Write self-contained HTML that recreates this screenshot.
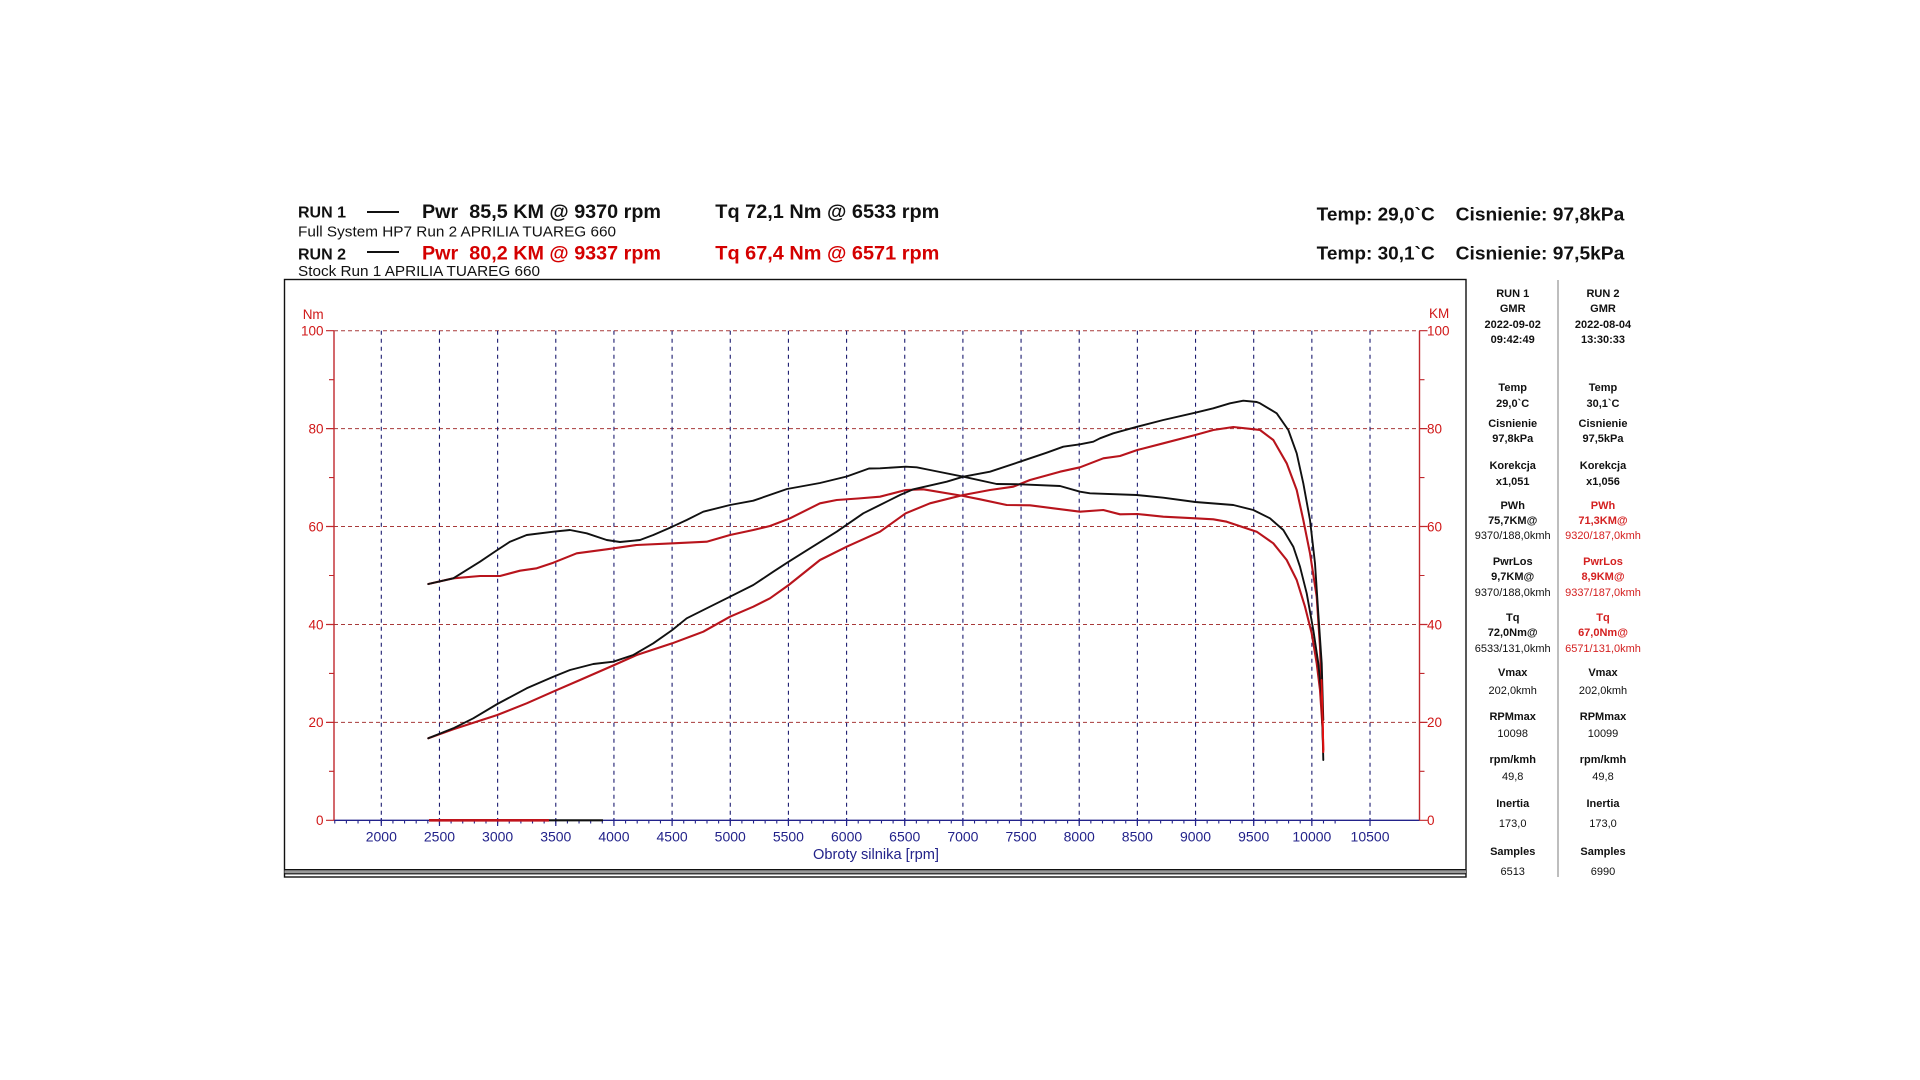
<!DOCTYPE html>
<html>
<head>
<meta charset="utf-8">
<style>
  html,body{margin:0;padding:0;background:#fff;}
  svg{display:block;}
  text{font-family:"Liberation Sans", Arial, sans-serif;}
</style>
</head>
<body>
<svg width="1920" height="1080" viewBox="0 0 1920 1080" xmlns="http://www.w3.org/2000/svg">
  <rect x="0" y="0" width="1920" height="1080" fill="#fff"/>

  <!-- Header left -->
  <text x="298" y="217.3" font-size="16" font-weight="bold" fill="#111" textLength="48" lengthAdjust="spacingAndGlyphs">RUN 1</text>
  <line x1="367" y1="212" x2="399" y2="212" stroke="#111" stroke-width="2"/>
  <text x="422" y="218" font-size="19.5" font-weight="bold" fill="#111" textLength="239" lengthAdjust="spacingAndGlyphs" xml:space="preserve">Pwr  85,5 KM @ 9370 rpm</text>
  <text x="715.3" y="218" font-size="19.5" font-weight="bold" fill="#111" textLength="224" lengthAdjust="spacingAndGlyphs">Tq 72,1 Nm @ 6533 rpm</text>
  <text x="298" y="236.7" font-size="14.5" fill="#111" textLength="318" lengthAdjust="spacingAndGlyphs">Full System HP7 Run 2 APRILIA TUAREG 660</text>

  <text x="298" y="259.3" font-size="16" font-weight="bold" fill="#111" textLength="48" lengthAdjust="spacingAndGlyphs">RUN 2</text>
  <line x1="367" y1="252" x2="399" y2="252" stroke="#111" stroke-width="2"/>
  <text x="422" y="259.5" font-size="19.5" font-weight="bold" fill="#d40000" textLength="239" lengthAdjust="spacingAndGlyphs" xml:space="preserve">Pwr  80,2 KM @ 9337 rpm</text>
  <text x="715.3" y="259.5" font-size="19.5" font-weight="bold" fill="#d40000" textLength="224" lengthAdjust="spacingAndGlyphs">Tq 67,4 Nm @ 6571 rpm</text>
  <text x="298" y="276" font-size="14.5" fill="#111" textLength="242" lengthAdjust="spacingAndGlyphs">Stock Run 1 APRILIA TUAREG 660</text>

  <!-- Header right -->
  <text x="1316.7" y="220.7" font-size="18.5" font-weight="bold" fill="#111" textLength="118" lengthAdjust="spacingAndGlyphs">Temp: 29,0`C</text>
  <text x="1455.7" y="220.7" font-size="18.5" font-weight="bold" fill="#111" textLength="168.6" lengthAdjust="spacingAndGlyphs">Cisnienie: 97,8kPa</text>
  <text x="1316.7" y="259.3" font-size="18.5" font-weight="bold" fill="#111" textLength="118" lengthAdjust="spacingAndGlyphs">Temp: 30,1`C</text>
  <text x="1455.7" y="259.3" font-size="18.5" font-weight="bold" fill="#111" textLength="168.6" lengthAdjust="spacingAndGlyphs">Cisnienie: 97,5kPa</text>

  <!-- Chart box -->
  <rect x="284.5" y="279.5" width="1181.5" height="597.5" fill="none" stroke="#111" stroke-width="1.4"/>
  <rect x="284.5" y="869" width="1181.5" height="1.4" fill="#111"/>
  <rect x="284.5" y="870.4" width="1181.5" height="2.8" fill="#9a9a9a"/>
  <rect x="284.5" y="873.2" width="1181.5" height="1.2" fill="#111"/>

  <!-- Stats divider -->
  <line x1="1558" y1="280" x2="1558" y2="877" stroke="#a8a8a8" stroke-width="1.5"/>

  <!-- Horizontal dashed gridlines (red) -->
  <g stroke="#a83a3a" stroke-width="1" stroke-dasharray="4 3" fill="none">
    <line x1="334" y1="330.7" x2="1419.5" y2="330.7"/>
    <line x1="334" y1="428.6" x2="1419.5" y2="428.6"/>
    <line x1="334" y1="526.5" x2="1419.5" y2="526.5"/>
    <line x1="334" y1="624.5" x2="1419.5" y2="624.5"/>
    <line x1="334" y1="722.4" x2="1419.5" y2="722.4"/>
  </g>

  <!-- Vertical dashed gridlines (navy) -->
  <path stroke="#1c1c70" stroke-width="1.1" stroke-dasharray="4 4" fill="none" d="
    M381.3,330.7 V820 M439.46,330.7 V820 M497.62,330.7 V820 M555.78,330.7 V820
    M613.94,330.7 V820 M672.1,330.7 V820 M730.26,330.7 V820 M788.42,330.7 V820
    M846.58,330.7 V820 M904.74,330.7 V820 M962.9,330.7 V820 M1021.06,330.7 V820
    M1079.22,330.7 V820 M1137.38,330.7 V820 M1195.54,330.7 V820 M1253.7,330.7 V820
    M1311.86,330.7 V820 M1370.02,330.7 V820"/>

  <!-- X axis -->
  <line x1="334" y1="820.3" x2="1419.5" y2="820.3" stroke="#22228a" stroke-width="1.4"/>
  <path stroke="#22228a" stroke-width="1.1" fill="none" d="M334.77,820 v3.5 m11.632,-3.5 v3.5 m11.632,-3.5 v3.5 m11.632,-3.5 v3.5 m11.632,-3.5 v3.5 m11.632,-3.5 v3.5 m11.632,-3.5 v3.5 m11.632,-3.5 v3.5 m11.632,-3.5 v3.5 m11.632,-3.5 v3.5 m11.632,-3.5 v3.5 m11.632,-3.5 v3.5 m11.632,-3.5 v3.5 m11.632,-3.5 v3.5 m11.632,-3.5 v3.5 m11.632,-3.5 v3.5 m11.632,-3.5 v3.5 m11.632,-3.5 v3.5 m11.632,-3.5 v3.5 m11.632,-3.5 v3.5 m11.632,-3.5 v3.5 m11.632,-3.5 v3.5 m11.632,-3.5 v3.5 m11.632,-3.5 v3.5 m11.632,-3.5 v3.5 m11.632,-3.5 v3.5 m11.632,-3.5 v3.5 m11.632,-3.5 v3.5 m11.632,-3.5 v3.5 m11.632,-3.5 v3.5 m11.632,-3.5 v3.5 m11.632,-3.5 v3.5 m11.632,-3.5 v3.5 m11.632,-3.5 v3.5 m11.632,-3.5 v3.5 m11.632,-3.5 v3.5 m11.632,-3.5 v3.5 m11.632,-3.5 v3.5 m11.632,-3.5 v3.5 m11.632,-3.5 v3.5 m11.632,-3.5 v3.5 m11.632,-3.5 v3.5 m11.632,-3.5 v3.5 m11.632,-3.5 v3.5 m11.632,-3.5 v3.5 m11.632,-3.5 v3.5 m11.632,-3.5 v3.5 m11.632,-3.5 v3.5 m11.632,-3.5 v3.5 m11.632,-3.5 v3.5 m11.632,-3.5 v3.5 m11.632,-3.5 v3.5 m11.632,-3.5 v3.5 m11.632,-3.5 v3.5 m11.632,-3.5 v3.5 m11.632,-3.5 v3.5 m11.632,-3.5 v3.5 m11.632,-3.5 v3.5 m11.632,-3.5 v3.5 m11.632,-3.5 v3.5 m11.632,-3.5 v3.5 m11.632,-3.5 v3.5 m11.632,-3.5 v3.5 m11.632,-3.5 v3.5 m11.632,-3.5 v3.5 m11.632,-3.5 v3.5 m11.632,-3.5 v3.5 m11.632,-3.5 v3.5 m11.632,-3.5 v3.5 m11.632,-3.5 v3.5 m11.632,-3.5 v3.5 m11.632,-3.5 v3.5 m11.632,-3.5 v3.5 m11.632,-3.5 v3.5 m11.632,-3.5 v3.5 m11.632,-3.5 v3.5 m11.632,-3.5 v3.5 m11.632,-3.5 v3.5 m11.632,-3.5 v3.5 m11.632,-3.5 v3.5 m11.632,-3.5 v3.5 m11.632,-3.5 v3.5 m11.632,-3.5 v3.5 m11.632,-3.5 v3.5 m11.632,-3.5 v3.5 m11.632,-3.5 v3.5 m11.632,-3.5 v3.5"/>
  <path stroke="#22228a" stroke-width="1.2" fill="none" d="M381.3,818 v8 m58.16,-8 v8 m58.16,-8 v8 m58.16,-8 v8 m58.16,-8 v8 m58.16,-8 v8 m58.16,-8 v8 m58.16,-8 v8 m58.16,-8 v8 m58.16,-8 v8 m58.16,-8 v8 m58.16,-8 v8 m58.16,-8 v8 m58.16,-8 v8 m58.16,-8 v8 m58.16,-8 v8 m58.16,-8 v8 m58.16,-8 v8"/>

  <g font-size="14" fill="#22228a" text-anchor="middle">
    <text x="381.3" y="841.7">2000</text>
    <text x="439.46" y="841.7">2500</text>
    <text x="497.62" y="841.7">3000</text>
    <text x="555.78" y="841.7">3500</text>
    <text x="613.94" y="841.7">4000</text>
    <text x="672.1" y="841.7">4500</text>
    <text x="730.26" y="841.7">5000</text>
    <text x="788.42" y="841.7">5500</text>
    <text x="846.58" y="841.7">6000</text>
    <text x="904.74" y="841.7">6500</text>
    <text x="962.9" y="841.7">7000</text>
    <text x="1021.06" y="841.7">7500</text>
    <text x="1079.22" y="841.7">8000</text>
    <text x="1137.38" y="841.7">8500</text>
    <text x="1195.54" y="841.7">9000</text>
    <text x="1253.7" y="841.7">9500</text>
    <text x="1311.86" y="841.7">10000</text>
    <text x="1370.02" y="841.7">10500</text>
  </g>
  <text x="876" y="859" font-size="15" fill="#22228a" text-anchor="middle" textLength="126" lengthAdjust="spacingAndGlyphs">Obroty silnika [rpm]</text>

  <!-- Left axis -->
  <line x1="334" y1="330.7" x2="334" y2="820.3" stroke="#c0282d" stroke-width="1.4"/>
  <path stroke="#c0282d" stroke-width="1.1" fill="none" d="M329,379.66 h5 M329,477.58 h5 M329,575.5 h5 M329,673.42 h5 M329,771.34 h5"/>
  <path stroke="#c0282d" stroke-width="1.2" fill="none" d="M326,330.7 h8 M326,428.6 h8 M326,526.5 h8 M326,624.5 h8 M326,722.4 h8 M326,820.3 h8"/>
  <g font-size="13.5" fill="#d01818" text-anchor="end">
    <text x="323.5" y="335.5">100</text>
    <text x="323.5" y="433.4">80</text>
    <text x="323.5" y="531.3">60</text>
    <text x="323.5" y="629.3">40</text>
    <text x="323.5" y="727.2">20</text>
    <text x="323.5" y="825.1">0</text>
  </g>
  <text x="302.7" y="318.8" font-size="13.5" fill="#d01818">Nm</text>

  <!-- Right axis -->
  <line x1="1419.5" y1="330.7" x2="1419.5" y2="820.3" stroke="#c0282d" stroke-width="1.4"/>
  <path stroke="#c0282d" stroke-width="1.1" fill="none" d="M1419.5,379.66 h5 M1419.5,477.58 h5 M1419.5,575.5 h5 M1419.5,673.42 h5 M1419.5,771.34 h5"/>
  <path stroke="#c0282d" stroke-width="1.2" fill="none" d="M1419.5,330.7 h8 M1419.5,428.6 h8 M1419.5,526.5 h8 M1419.5,624.5 h8 M1419.5,722.4 h8 M1419.5,820.3 h8"/>
  <g font-size="13.5" fill="#d01818" text-anchor="start">
    <text x="1427" y="335.5">100</text>
    <text x="1427" y="433.4">80</text>
    <text x="1427" y="531.3">60</text>
    <text x="1427" y="629.3">40</text>
    <text x="1427" y="727.2">20</text>
    <text x="1427" y="825.1">0</text>
  </g>
  <text x="1429" y="317.8" font-size="13.5" fill="#d01818">KM</text>

  <!-- Zero lines -->
  <line x1="429" y1="820.3" x2="549" y2="820.3" stroke="#c0141c" stroke-width="2.6"/>
  <line x1="549" y1="820.3" x2="603" y2="820.3" stroke="#111" stroke-width="2.2"/>

  <!-- Curves -->
  <g fill="none" stroke-linejoin="round" stroke-linecap="round">
    <!-- Red power (RUN 2) -->
    <polyline stroke="#b8141c" stroke-width="2.1" points="428.3,738.3 453.3,729.3 497.3,715 526.7,703.3 555.3,690.7 580,680 614.3,665 636.7,655 672.3,643.3 703.3,631.7 730,616.7 753.3,606.7 770,598.3 788.7,585 820,560 846.7,546.7 880,531.7 905.7,513.3 930,503.3 963.3,495 990,490 1013.3,486.7 1030,480 1060,471.7 1080,467.3 1103.3,458.3 1120,456 1137.3,450 1163.3,443.3 1195.3,435 1213.3,430 1233.3,427 1254.3,429.3 1260,430 1273.3,440 1286.7,463.3 1296.7,490 1303.3,520 1310,553.3 1316.7,596.7 1320,646.7 1321.7,696.7 1323,740"/>
    <!-- Red torque (RUN 2) -->
    <polyline stroke="#b8141c" stroke-width="2.1" points="428.3,584 453.3,578.3 480,576 500,576 520,570.7 536.7,568.3 553.3,562.7 576.7,553.3 606.7,549.3 636.7,545 673.3,543.3 706.7,541.7 730,535 753.3,530 770,526 790,518.3 820,503.3 836.7,500 858,498.5 880,496.7 905.7,490 923.3,489.3 963.3,496 980,499.3 1006.7,505 1030,505.3 1053.3,508.3 1080,511.7 1103.3,510 1120,514.3 1137.3,514 1163.3,516.7 1195.3,518.3 1213.3,519.3 1226.7,521.7 1256.7,531.7 1273.3,543.3 1286.7,560 1296.7,580 1305,606.7 1311.7,633.3 1316.7,663.3 1320,690 1322.7,730 1323.3,750"/>
    <!-- Black power (RUN 1) -->
    <polyline stroke="#111" stroke-width="1.9" points="428.3,738.3 453.3,728.3 473.3,718.3 497.3,704 526.7,688.3 553.3,676.7 570,670 593.3,664 613.3,661.7 633.3,655 653.3,643.3 672.3,630 686.7,618.3 706.7,608.3 730,596.7 753.3,585 773.3,571.7 788.7,561.7 810,548.3 836.7,531.7 863.3,513.3 880,505 900,495 913.3,489.3 946.7,481.7 963.3,476.7 990,471.7 1020,461.7 1046.7,452.7 1063.3,446.7 1080,444.3 1093.3,441.7 1100,438.3 1113.3,433.3 1137.3,426.7 1163.3,420 1195.3,412.7 1213.3,408.3 1230,403.3 1243.3,400.7 1256.7,402 1260,403.3 1276.7,413.3 1288.3,430 1296.7,453.3 1303.3,483.3 1310,520 1315,563.3 1318.3,613.3 1321.7,663.3 1323.3,720"/>
    <!-- Black torque (RUN 1) -->
    <polyline stroke="#111" stroke-width="1.9" points="428.3,584 453.3,578.3 480,561.7 497.3,550 510,541.7 526.7,535 553.3,531.7 570,530 586.7,533.3 606.7,540 620,542 640,540 653.3,535 672.3,526.7 686.7,520 703.3,511.7 730,505 753.3,500.7 787,489 820,483 846.7,476.5 869,468.5 880,468.3 905.7,466.7 916.7,467.3 930,470 963.3,476.7 996.7,484 1020,484.3 1060,486 1080,491.7 1090,493.3 1136.7,495 1163.3,497.7 1195.3,502 1233.3,505 1253.3,510 1270,518.3 1283.3,530 1293.3,546.7 1300,566.7 1306.7,593.3 1313.3,630 1318.3,663.3 1321.7,696.7 1323.3,760"/>
    <!-- Red spike -->
    <polyline stroke="#e01010" stroke-width="2" points="1321.5,680 1322.8,725 1323.3,752"/>
  </g>

  <!-- Stats panel -->
  <g font-size="11" text-anchor="middle" dominant-baseline="central" fill="#111">
    <g font-weight="bold">
      <text x="1512.7" y="294">RUN 1</text><text x="1603" y="294">RUN 2</text>
      <text x="1512.7" y="309">GMR</text><text x="1603" y="309">GMR</text>
      <text x="1512.7" y="325">2022-09-02</text><text x="1603" y="325">2022-08-04</text>
      <text x="1512.7" y="340">09:42:49</text><text x="1603" y="340">13:30:33</text>
      <text x="1512.7" y="388">Temp</text><text x="1603" y="388">Temp</text>
      <text x="1512.7" y="404">29,0`C</text><text x="1603" y="404">30,1`C</text>
      <text x="1512.7" y="424">Cisnienie</text><text x="1603" y="424">Cisnienie</text>
      <text x="1512.7" y="439">97,8kPa</text><text x="1603" y="439">97,5kPa</text>
      <text x="1512.7" y="466">Korekcja</text><text x="1603" y="466">Korekcja</text>
      <text x="1512.7" y="482">x1,051</text><text x="1603" y="482">x1,056</text>
      <text x="1512.7" y="506">PWh</text><text x="1603" y="506" fill="#d42020">PWh</text>
      <text x="1512.7" y="521">75,7KM@</text><text x="1603" y="521" fill="#d42020">71,3KM@</text>
      <text x="1512.7" y="562">PwrLos</text><text x="1603" y="562" fill="#d42020">PwrLos</text>
      <text x="1512.7" y="577">9,7KM@</text><text x="1603" y="577" fill="#d42020">8,9KM@</text>
      <text x="1512.7" y="618">Tq</text><text x="1603" y="618" fill="#d42020">Tq</text>
      <text x="1512.7" y="633">72,0Nm@</text><text x="1603" y="633" fill="#d42020">67,0Nm@</text>
      <text x="1512.7" y="673">Vmax</text><text x="1603" y="673">Vmax</text>
      <text x="1512.7" y="717">RPMmax</text><text x="1603" y="717">RPMmax</text>
      <text x="1512.7" y="760">rpm/kmh</text><text x="1603" y="760">rpm/kmh</text>
      <text x="1512.7" y="804">Inertia</text><text x="1603" y="804">Inertia</text>
      <text x="1512.7" y="852">Samples</text><text x="1603" y="852">Samples</text>
    </g>
    <g>
      <text x="1512.7" y="536">9370/188,0kmh</text><text x="1603" y="536" fill="#d42020">9320/187,0kmh</text>
      <text x="1512.7" y="593">9370/188,0kmh</text><text x="1603" y="593" fill="#d42020">9337/187,0kmh</text>
      <text x="1512.7" y="649">6533/131,0kmh</text><text x="1603" y="649" fill="#d42020">6571/131,0kmh</text>
      <text x="1512.7" y="691">202,0kmh</text><text x="1603" y="691">202,0kmh</text>
      <text x="1512.7" y="734">10098</text><text x="1603" y="734">10099</text>
      <text x="1512.7" y="777">49,8</text><text x="1603" y="777">49,8</text>
      <text x="1512.7" y="824">173,0</text><text x="1603" y="824">173,0</text>
      <text x="1512.7" y="872">6513</text><text x="1603" y="872">6990</text>
    </g>
  </g>
</svg>
</body>
</html>
